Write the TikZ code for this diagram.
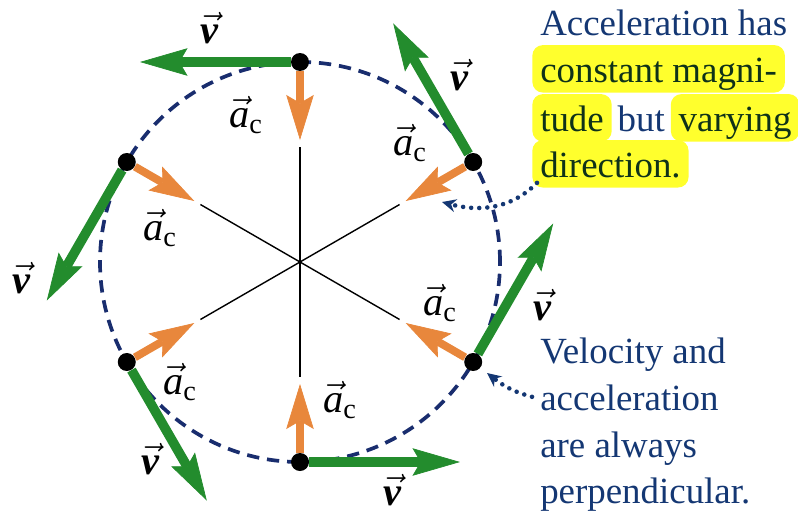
\documentclass[tikz,border=0pt]{standalone}
\usepackage{amsmath}
\usepackage{fontspec}
\setmainfont{Liberation Serif}
\usetikzlibrary{positioning,arrows.meta}
\definecolor{orbitblue}{RGB}{25,45,110}
\definecolor{notenavy}{RGB}{20,55,115}
\definecolor{velgreen}{RGB}{35,140,45}
\definecolor{accorange}{RGB}{232,135,60}
\definecolor{hlyellow}{RGB}{255,255,45}
\definecolor{hltext}{RGB}{15,50,25}
\tikzset{
    orbit/.style={draw=orbitblue, line width=2.1pt, dash pattern=on 7pt off 4.5pt}, % 虚线圆轨道
    spoke/.style={draw=black, line width=0.8pt},
    vel/.style={draw=velgreen, line width=5.5pt, -{Stealth[length=9.5mm,width=5.5mm,inset=1.6mm,line width=0.4pt]}},
    acc/.style={draw=accorange, line width=4.5pt, -{Stealth[length=9mm,width=5.5mm,inset=1.6mm,line width=0.4pt]}},
    ball/.style={circle, fill=black, minimum size=3.6mm, inner sep=0pt},
    lbl/.style={font=\fontsize{23}{26}\selectfont},
    note/.style={font=\fontsize{21}{26}\selectfont, text=notenavy, inner xsep=4.5pt, inner ysep=3pt, text height=18pt, text depth=3pt},
    hl/.style={note, fill=hlyellow, rounded corners=6pt, text=hltext}, % 黄色高亮
    pointer/.style={draw=notenavy, line width=2.6pt, line cap=round, dash pattern=on 0pt off 4.6pt, -{Stealth[length=2.8mm,width=2.6mm]}}
}

\begin{document}
\begin{tikzpicture}
    \useasboundingbox (-6,-5.06) rectangle (9.96,5.24);
    \coordinate (o) at (0,0);

    % 轨道和半径
    \draw[orbit] (o) circle (4);
    \coordinate (s1) at (90:2.3);
    \coordinate (s2) at (150:2.3);
    \coordinate (s3) at (210:2.3);
    \coordinate (s4) at (270:2.3);
    \coordinate (s5) at (330:2.3);
    \coordinate (s6) at (30:2.3);
    \draw[spoke] (o) -- (s1);
    \draw[spoke] (o) -- (s2);
    \draw[spoke] (o) -- (s3);
    \draw[spoke] (o) -- (s4);
    \draw[spoke] (o) -- (s5);
    \draw[spoke] (o) -- (s6);

    % 圆周上的质点
    \node (p1) [ball] at (90:4) {};
    \node (p2) [ball] at (150:4) {};
    \node (p3) [ball] at (210:4) {};
    \node (p4) [ball] at (270:4) {};
    \node (p5) [ball] at (330:4) {};
    \node (p6) [ball] at (30:4) {};

    % 向心加速度 - 橙色
    \coordinate (k1) at (90:2.44);
    \coordinate (k2) at (150:2.44);
    \coordinate (k3) at (210:2.44);
    \coordinate (k4) at (270:2.44);
    \coordinate (k5) at (330:2.44);
    \coordinate (k6) at (30:2.44);
    \draw[acc] (p1) -- (k1);
    \draw[acc] (p2) -- (k2);
    \draw[acc] (p3) -- (k3);
    \draw[acc] (p4) -- (k4);
    \draw[acc] (p5) -- (k5);
    \draw[acc] (p6) -- (k6);

    % 速度 - 绿色，沿切线
    \coordinate (g1) at (-3.2,4);
    \coordinate (g2) at (-5.064,-0.771);
    \coordinate (g3) at (-1.864,-4.771);
    \coordinate (g4) at (3.2,-4);
    \coordinate (g5) at (5.064,0.771);
    \coordinate (g6) at (1.864,4.771);
    \draw[vel] (p1) -- (g1);
    \draw[vel] (p2) -- (g2);
    \draw[vel] (p3) -- (g3);
    \draw[vel] (p4) -- (g4);
    \draw[vel] (p5) -- (g5);
    \draw[vel] (p6) -- (g6);

    % 标签
    \node (lv1) [lbl] at (-1.8,4.68) {$\vec{\textbf{\textit{v}}}$};
    \node (lv2) [lbl] at (-5.56,-0.32) {$\vec{\textbf{\textit{v}}}$};
    \node (lv3) [lbl] at (-2.98,-3.94) {$\vec{\textbf{\textit{v}}}$};
    \node (lv4) [lbl] at (1.86,-4.56) {$\vec{\textbf{\textit{v}}}$};
    \node (lv5) [lbl] at (4.86,-0.86) {$\vec{\textbf{\textit{v}}}$};
    \node (lv6) [lbl] at (3.2,3.74) {$\vec{\textbf{\textit{v}}}$};
    \node (la1) [lbl] at (-1.08,2.94) {$\vec{\textit{a}}_{\text{c}}$};
    \node (la2) [lbl] at (-2.8,0.68) {$\vec{\textit{a}}_{\text{c}}$};
    \node (la3) [lbl] at (-2.4,-2.4) {$\vec{\textit{a}}_{\text{c}}$};
    \node (la4) [lbl] at (0.8,-2.76) {$\vec{\textit{a}}_{\text{c}}$};
    \node (la5) [lbl] at (2.8,-0.82) {$\vec{\textit{a}}_{\text{c}}$};
    \node (la6) [lbl] at (2.2,2.38) {$\vec{\textit{a}}_{\text{c}}$};

    % 说明文字
    \node (l1) [note, anchor=base west] at (4.64,4.54) {Acceleration has};
    \node (l2) [hl, anchor=base west] at (4.64,3.60) {constant magni-};
    \node (l3a) [hl, anchor=base west] at (4.64,2.62) {tude};
    \node (l3b) [note, inner xsep=3pt, base right=0pt of l3a] {but};
    \node (l3c) [hl, base right=0pt of l3b] {varying};
    \node (l4) [hl, anchor=base west] at (4.64,1.70) {direction.};
    \node (l5) [note, anchor=base west] at (4.64,-2.02) {Velocity and};
    \node (l6) [note, anchor=base west] at (4.64,-2.96) {acceleration};
    \node (l7) [note, anchor=base west] at (4.64,-3.90) {are always};
    \node (l8) [note, anchor=base west] at (4.64,-4.82) {perpendicular.};

    % 点线指示箭头
    \coordinate (t1) at (2.84,1.2);
    \coordinate (t2) at (3.74,-2.22);
    \draw[pointer] ([xshift=1mm,yshift=1mm]l4.south west) to[out=225, in=-15] (t1);
    \draw[pointer] (l6.west) to[out=165, in=-38] (t2);
\end{tikzpicture}
\end{document}
